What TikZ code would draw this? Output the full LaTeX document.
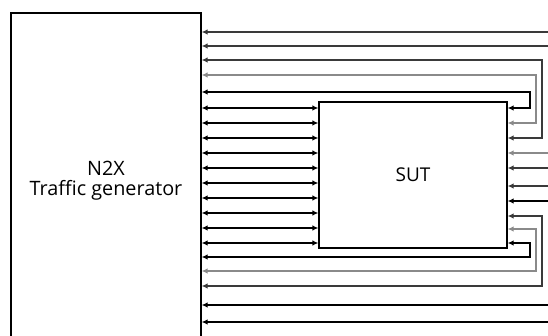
\documentclass[tikz,border=0pt]{standalone}
\usepackage{fontspec}
\setmainfont{Open Sans}
\usetikzlibrary{arrows.meta, positioning}
\definecolor{wiregray}{HTML}{8A8A8A}
\definecolor{wiredark}{HTML}{3A3A3A}

\begin{document}
\begin{tikzpicture}[
  x=1pt, y=-1pt,
  box/.style={draw=black, line width=1.2pt, rectangle, inner sep=0pt,
              font=\fontsize{19}{19}\selectfont, align=center},
  link/.style={line width=1.2pt, black},
  into/.style={link, -{Latex[length=6pt,width=5.5pt]}},
  both/.style={link, {Latex[length=6pt,width=5.5pt]}-{Latex[length=6pt,width=5.5pt]}}
]
\useasboundingbox (0,0) rectangle (548,336);

% units (the generator runs on below the page)
\node[box, minimum width=190pt, minimum height=335pt,
      font=\fontsize{19.8}{20}\selectfont] (gen) at (106,180.5)
  {N2X\\Traffic generator};
\node[box, minimum width=188pt, minimum height=146pt] (sut) at (413,175)
  {SUT};

% free ends at the right border
\coordinate (r1) at (548,32);
\coordinate (r2) at (548,46);
\coordinate (r3) at (548,305);
\coordinate (r4) at (548,322);
\coordinate (s1) at (548,153);
\coordinate (s2) at (548,168);
\coordinate (s3) at (548,186);
\coordinate (s4) at (548,201);

% straight into the generator
\draw[into, wiredark] (r1) -- (gen.east |- r1);
\draw[into, wiredark] (r2) -- (gen.east |- r2);
\draw[into] (r3) -- (gen.east |- r3);
\draw[into] (r4) -- (gen.east |- r4);

% straight into the SUT
\draw[into, wiregray] (s1) -- (sut.east |- s1);
\draw[into, wiredark] (s2) -- (sut.east |- s2);
\draw[into, wiredark] (s3) -- (sut.east |- s3);
\draw[into] (s4) -- (sut.east |- s4);

% generator <-> SUT
\foreach \y in {108,123,138,153,168,183,198,213,228,243}
  \draw[both] (gen.east |- 0,\y) -- (sut.west |- 0,\y);

% loops round the SUT
\draw[both, wiredark] (gen.east |- 0,60) -- (542,60) |- (sut.east |- 0,138);
\draw[both, wiregray] (gen.east |- 0,75) -- (536,75) |- (sut.east |- 0,123);
\draw[both] (gen.east |- 0,92) -- (530,92) |- (sut.east |- 0,108);
\draw[both] (gen.east |- 0,257) -- (530,257) |- (sut.east |- 0,243);
\draw[both, wiregray] (gen.east |- 0,271) -- (536,271) |- (sut.east |- 0,229);
\draw[both, wiredark] (gen.east |- 0,286) -- (542,286) |- (sut.east |- 0,216);
\end{tikzpicture}
\end{document}
